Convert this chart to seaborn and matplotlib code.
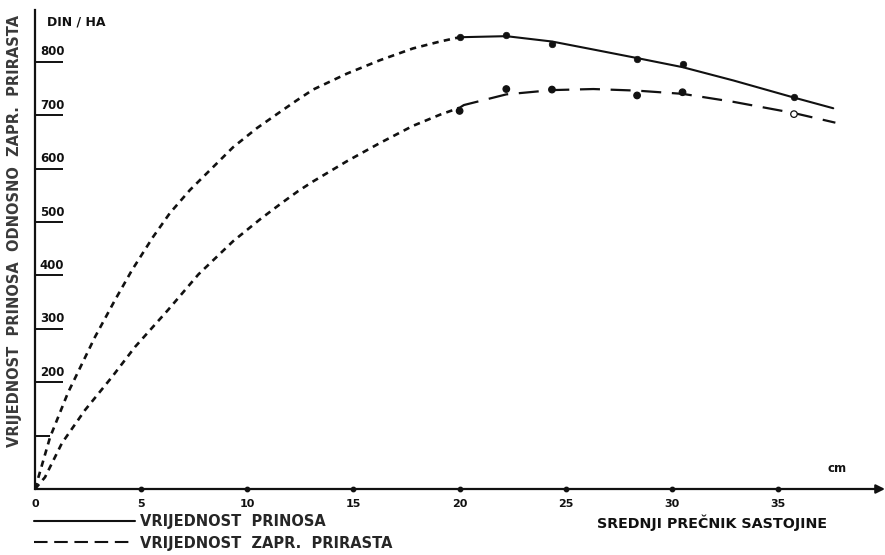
import matplotlib
matplotlib.use("Agg")
import matplotlib.pyplot as plt
from matplotlib.lines import Line2D
import seaborn as sns

# ---- data ----
# extrapolated (short dashed) part of "vrijednost prinosa"
prinos_ext_x = [0, 0.71, 1.55, 2.83, 3.77, 4.57, 5.56, 6.36, 7.3, 8.24, 9.33,
                10.46, 11.54, 12.3, 13.1, 14.7, 16.25, 17.8, 19.08, 20.0]
prinos_ext_y = [0, 97, 180, 285, 354, 410, 472, 517, 560, 597, 640,
                676, 706, 727, 748, 778, 803, 825, 838, 846]
# fitted solid part
prinos_x = [20.0, 22.2, 24.35, 26.3, 28.36, 30.5, 32.9, 35.75, 37.6]
prinos_y = [846, 848, 838, 823, 807, 790, 765, 733, 713]
# observed points
prinos_pts_x = [20.0, 22.2, 24.35, 28.36, 30.5, 35.75]
prinos_pts_y = [846, 850, 833, 805, 795, 735]

# extrapolated (short dashed) part of "vrijednost zapr. prirasta"
prirast_ext_x = [0, 0.47, 1.27, 2.36, 3.63, 4.71, 6.26, 7.7, 9.33, 10.6,
                 11.6, 12.4, 13.1, 14.7, 16.25, 17.8, 19.08, 20.0]
prirast_ext_y = [0, 22, 86, 148, 210, 266, 335, 402, 464, 505,
                 535, 558, 576, 614, 648, 680, 701, 714]
# fitted long dashed part
prirast_x = [20.0, 20.2, 22.2, 24.35, 26.3, 28.36, 30.5, 32.9, 35.75, 37.7]
prirast_y = [714, 719, 739, 747, 749, 746, 740, 725, 704, 686]
prirast_pts_x = [20.0, 22.2, 24.35, 28.36, 30.5, 35.75]
prirast_pts_y = [708, 749, 748, 737, 743, 702]

y_ticks = [200, 300, 400, 500, 600, 700, 800]
y_tick_labels = ["200", "300", "400", "500", "600", "700", "800"]
y_minor = [100]
x_ticks = [0, 5, 10, 15, 20, 25, 30, 35]
x_tick_labels = ["0", "5", "10", "15", "20", "25", "30", "35"]

y_unit = "DIN / HA"
x_unit = "cm"
x_title = "SREDNJI PREČNIK SASTOJINE"
y_title = "VRIJEDNOST  PRINOSA  ODNOSNO  ZAPR.  PRIRASTA"
legend_labels = ["VRIJEDNOST  PRINOSA", "VRIJEDNOST  ZAPR.  PRIRASTA"]

# ---- style ----
sns.set_style("white")
plt.rcParams["font.family"] = ["DejaVu Sans"]
plt.rcParams["font.weight"] = "bold"

W, H = 885, 555
fig = plt.figure(figsize=(W / 100, H / 100), dpi=100)
ax = fig.add_axes([35 / W, 66 / H, 850 / W, 479 / H])
ax.set_xlim(0, 850 / 21.23)
ax.set_ylim(0, 479 / 0.534)

ink = "#111111"
short = (0, (2.4, 2.0))
longd = (0, (9.0, 4.8))

sns.lineplot(x=prinos_ext_x, y=prinos_ext_y, ax=ax, color=ink, lw=1.9,
             linestyle=short, estimator=None, sort=False)
sns.lineplot(x=prinos_x, y=prinos_y, ax=ax, color=ink, lw=1.5,
             estimator=None, sort=False)
sns.lineplot(x=prirast_ext_x, y=prirast_ext_y, ax=ax, color=ink, lw=1.9,
             linestyle=short, estimator=None, sort=False)
sns.lineplot(x=prirast_x, y=prirast_y, ax=ax, color=ink, lw=1.6,
             linestyle=longd, estimator=None, sort=False)

sns.scatterplot(x=prinos_pts_x, y=prinos_pts_y, ax=ax, color=ink, s=22,
                edgecolor=ink, linewidth=0.5, zorder=5)
fc = [ink] * (len(prirast_pts_x) - 1) + ["white"]
ax.scatter(prirast_pts_x, prirast_pts_y, s=22, facecolors=fc, edgecolors=ink,
           linewidths=0.9, zorder=5)

# axes frame
for s in ["top", "right", "bottom"]:
    ax.spines[s].set_visible(False)
ax.spines["left"].set_color(ink)
ax.spines["left"].set_linewidth(1.6)
ax.annotate("", xy=(1.0, 0), xytext=(0, 0), xycoords="axes fraction",
            arrowprops=dict(arrowstyle="-|>", lw=1.6, color=ink,
                            mutation_scale=13, shrinkA=0, shrinkB=0),
            annotation_clip=False)

# y ticks (inside) with labels sitting on them
ax.set_yticks(y_ticks)
ax.set_yticklabels([])
ax.set_yticks(y_minor, minor=True)
ax.tick_params(axis="y", which="major", direction="in", length=20,
               width=1.4, color=ink, left=True)
ax.tick_params(axis="y", which="minor", direction="in", length=11,
               width=1.4, color=ink, left=True)
for v, lab in zip(y_ticks, y_tick_labels):
    ax.annotate(lab, xy=(0, v), xytext=(3.5, 2.5), textcoords="offset points",
                ha="left", va="bottom", fontsize=8.5, fontweight="bold",
                color=ink)

# x ticks: dots on axis
ax.set_xticks(x_ticks)
ax.set_xticklabels(x_tick_labels, fontsize=8, fontweight="bold", color=ink)
ax.tick_params(axis="x", length=0, pad=7, bottom=True)
ax.scatter(x_ticks[1:], [0] * (len(x_ticks) - 1), s=10, color=ink,
           clip_on=False, zorder=6)

# texts
fig.text(76 / W, 1 - 22 / H, y_unit, ha="center", va="center",
         fontsize=9, fontweight="bold", color=ink)
fig.text(837 / W, 1 - 469 / H, x_unit, ha="center", va="center",
         fontsize=8.5, color=ink)
fig.text(712 / W, 1 - 523 / H, x_title, ha="center", va="center",
         fontsize=10.3, fontweight="bold", color=ink)
fig.text(15 / W, 1 - 231 / H, y_title, ha="center", va="center",
         rotation=90, fontsize=10.5, fontweight="bold", color="#3a3a3a")

handles = [Line2D([], [], color=ink, lw=1.5),
           Line2D([], [], color=ink, lw=1.5, linestyle=(0, (6.5, 3.2)))]
fig.legend(handles, legend_labels, loc="upper left",
           bbox_to_anchor=(34 / W, 1 - 514 / H), frameon=False,
           handlelength=6.9, handletextpad=0.4, labelspacing=0.45,
           borderpad=0, borderaxespad=0,
           prop=dict(size=10.5, weight="bold"))

fig.savefig("out.png", dpi=100)
